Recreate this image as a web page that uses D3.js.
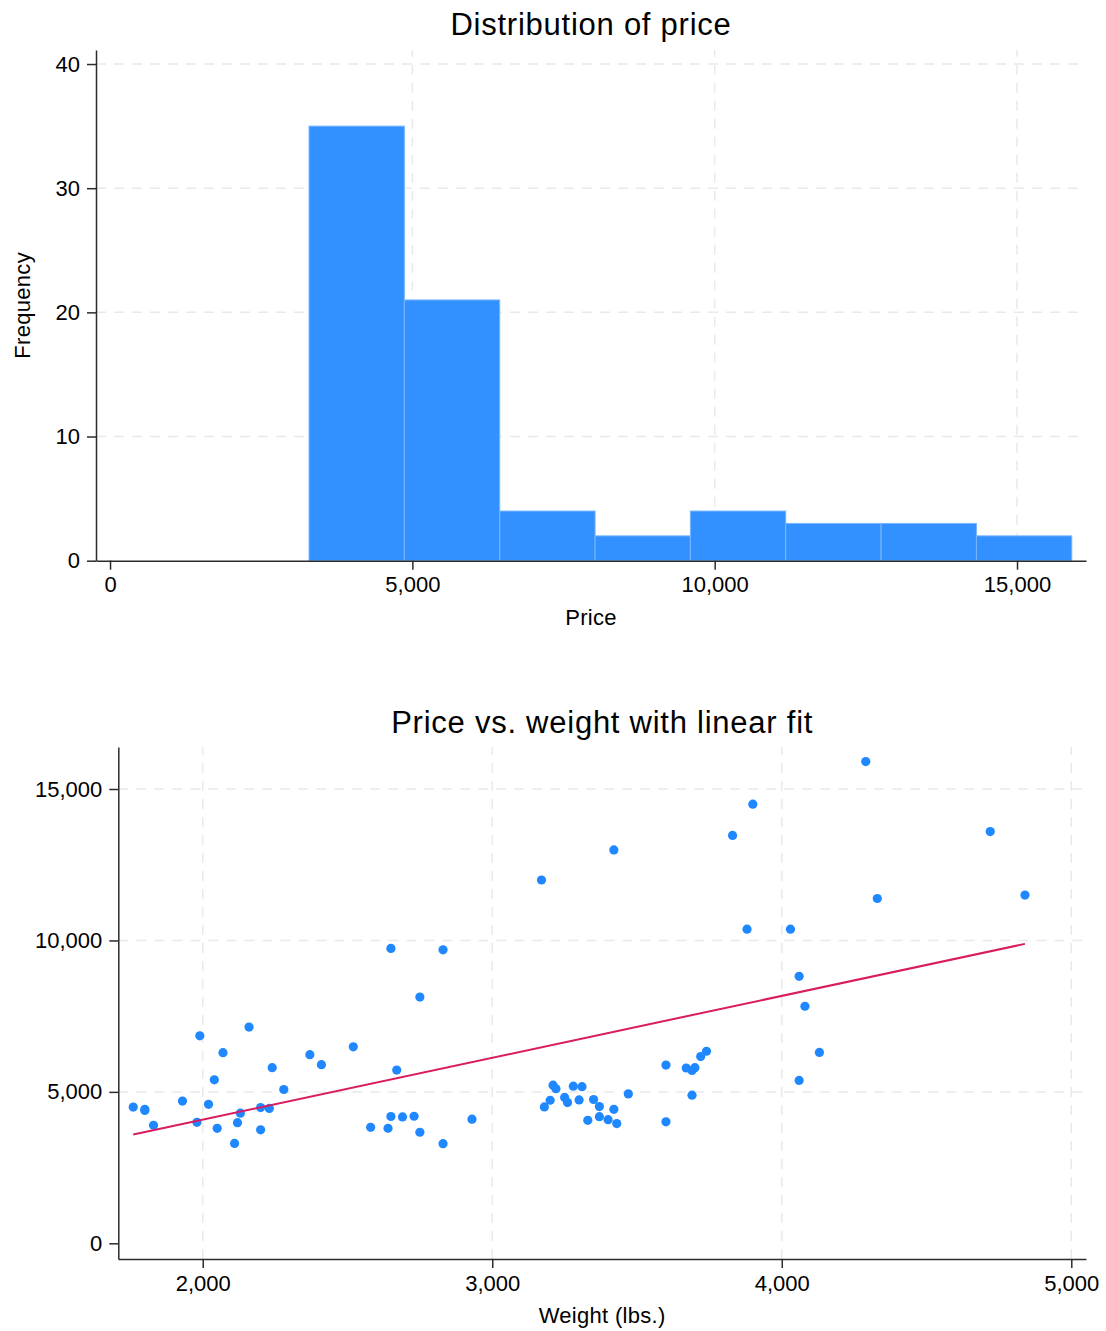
<!DOCTYPE html>
<html>
<head>
<meta charset="utf-8">
<title>Price histogram and price vs. weight</title>
<script src="https://d3js.org/d3.v7.min.js"></script>
<style>
  body { margin: 0; background: #fff; }
  svg text { font-family: "Liberation Sans", Arial, Helvetica, sans-serif; fill: #000; }
  .grid line { stroke: #e9e9e9; stroke-width: 1.5; stroke-dasharray: 10,8; }
  .axis path, .axis line { stroke: #2b2b2b; stroke-width: 1.5; }
  .title { font-size: 31px; letter-spacing: 0.75px; }
  .axtitle { font-size: 22px; letter-spacing: 0.3px; }
</style>
</head>
<body>
<div id="chart"></div>
<script>
// histogram of price: bin edges and frequencies
var priceBinEdges = [3291, 4868, 6445, 8022, 9598, 11175, 12752, 14329, 15906]
var priceBinCounts = [35, 21, 4, 2, 4, 3, 3, 2]

// scatter: weight (lbs.) and price of each car
var weight = [2930, 3350, 2640, 3250, 4080, 3670, 2230, 3280, 3880, 3400,
              4330, 3900, 4290, 2110, 3690, 3180, 3220, 2750, 3430, 2120,
              3600, 3600, 3740, 1800, 2650, 4840, 4720, 3830, 2580, 4060,
              3720, 3370, 4130, 2830, 4060, 3310, 3300, 3690, 3370, 2730,
              4030, 3260, 1800, 2200, 2520, 3330, 3700, 3470, 3210, 3200,
              3420, 2690, 2830, 2070, 2650, 2370, 2020, 2280, 2750, 2130,
              2240, 1760, 1980, 3420, 1830, 2050, 2410, 2200, 2670, 2160,
              2040, 1930, 1990, 3170]
var price = [4099, 4749, 3799, 4816, 7827, 5788, 4453, 5189, 10372, 4082,
             11385, 14500, 15906, 3299, 5705, 4504, 5104, 3667, 3955, 3984,
             4010, 5886, 6342, 4389, 4187, 11497, 13594, 13466, 3829, 5379,
             6165, 4516, 6303, 3291, 8814, 5172, 4733, 4890, 4181, 4195,
             10371, 4647, 4425, 4482, 6486, 4060, 5798, 4934, 5222, 4723,
             4424, 4172, 9690, 6295, 9735, 6229, 4589, 5079, 8129, 4296,
             5799, 4499, 3995, 12990, 3895, 3798, 5899, 3748, 5719, 7140,
             5397, 4697, 6850, 11995]

// tick labels
var histXTicks = [0, 5000, 10000, 15000]
var histYTicks = [0, 10, 20, 30, 40]
var scatXTicks = [2000, 3000, 4000, 5000]
var scatYTicks = [0, 5000, 10000, 15000]

var width = 1106
var height = 1331
var fmt = d3.format(",")

var svg = d3.select("#chart")
  .append("svg")
    .attr("width", width)
    .attr("height", height)

// ---------- top panel: histogram ----------
var hx = d3.scaleLinear().domain([-232, 16141]).range([96, 1086])
var hy = d3.scaleLinear().domain([0, 41.13]).range([560.7, 50])

var histPanel = svg.append("g")

// grid (none at 0, Stata drops it next to the axis)
var hgrid = histPanel.append("g").attr("class", "grid")
hgrid.selectAll(".gy").data(histYTicks.filter(function(d){ return d > 0 }))
  .enter().append("line")
    .attr("x1", hx.range()[0]).attr("x2", hx.range()[1])
    .attr("y1", function(d){ return hy(d) }).attr("y2", function(d){ return hy(d) })
hgrid.selectAll(".gx").data(histXTicks.filter(function(d){ return d > 0 }))
  .enter().append("line")
    .attr("y1", hy.range()[0]).attr("y2", hy.range()[1])
    .attr("x1", function(d){ return hx(d) }).attr("x2", function(d){ return hx(d) })

// bars
histPanel.append("g").selectAll("rect")
  .data(priceBinCounts)
  .enter().append("rect")
    .attr("x", function(d, i){ return hx(priceBinEdges[i]) })
    .attr("width", function(d, i){ return hx(priceBinEdges[i + 1]) - hx(priceBinEdges[i]) })
    .attr("y", function(d){ return hy(d) })
    .attr("height", function(d){ return hy(0) - hy(d) })
    .style("fill", "#3391ff")
    .style("stroke", "#78b6ff")
    .style("stroke-width", 1)

// axes
histPanel.append("g").attr("class", "axis")
  .attr("transform", "translate(0," + hy(0) + ")")
  .call(d3.axisBottom(hx).tickValues(histXTicks).tickFormat(fmt).tickSize(9).tickSizeOuter(0).tickPadding(7))
  .call(function(g){ g.selectAll("text").style("font-size", "22px") })
histPanel.append("g").attr("class", "axis")
  .attr("transform", "translate(" + hx.range()[0] + ",0)")
  .call(d3.axisLeft(hy).tickValues(histYTicks).tickFormat(fmt).tickSize(9).tickSizeOuter(0).tickPadding(7))
  .call(function(g){ g.selectAll("text").style("font-size", "22px") })

// titles
histPanel.append("text").attr("class", "title")
  .attr("x", (hx.range()[0] + hx.range()[1]) / 2).attr("y", 35)
  .attr("text-anchor", "middle")
  .text("Distribution of price")
histPanel.append("text").attr("class", "axtitle")
  .attr("x", (hx.range()[0] + hx.range()[1]) / 2).attr("y", 625)
  .attr("text-anchor", "middle")
  .text("Price")
histPanel.append("text").attr("class", "axtitle")
  .attr("transform", "translate(30," + (hy.range()[0] + hy.range()[1]) / 2 + ") rotate(-90)")
  .attr("text-anchor", "middle")
  .text("Frequency")

// ---------- bottom panel: scatter with linear fit ----------
var sx = d3.scaleLinear().domain([1708.4, 5050.8]).range([118.3, 1086])
var sy = d3.scaleLinear().domain([-518, 16387]).range([1259, 747])

var scatPanel = svg.append("g")

var sgrid = scatPanel.append("g").attr("class", "grid")
sgrid.selectAll(".gy").data(scatYTicks.filter(function(d){ return d > 0 }))
  .enter().append("line")
    .attr("x1", sx.range()[0]).attr("x2", sx.range()[1])
    .attr("y1", function(d){ return sy(d) }).attr("y2", function(d){ return sy(d) })
sgrid.selectAll(".gx").data(scatXTicks)
  .enter().append("line")
    .attr("y1", sy.range()[0]).attr("y2", sy.range()[1])
    .attr("x1", function(d){ return sx(d) }).attr("x2", function(d){ return sx(d) })

// points
var cars = weight.map(function(w, i){ return { weight: w, price: price[i] } })
scatPanel.append("g").selectAll("circle")
  .data(cars)
  .enter().append("circle")
    .attr("cx", function(d){ return sx(d.weight) })
    .attr("cy", function(d){ return sy(d.price) })
    .attr("r", 4.6)
    .style("fill", "#1f88ff")

// least squares fit of price on weight
var mw = d3.mean(weight), mp = d3.mean(price)
var slope = d3.sum(cars, function(d){ return (d.weight - mw) * (d.price - mp) }) /
            d3.sum(cars, function(d){ return (d.weight - mw) * (d.weight - mw) })
var icpt = mp - slope * mw
var fitX = d3.extent(weight)
scatPanel.append("path")
  .datum(fitX)
  .attr("d", d3.line()
    .x(function(d){ return sx(d) })
    .y(function(d){ return sy(icpt + slope * d) }))
  .style("fill", "none")
  .style("stroke", "#d91b5f")
  .style("stroke-width", 2)

scatPanel.append("g").attr("class", "axis")
  .attr("transform", "translate(0," + sy.range()[0] + ")")
  .call(d3.axisBottom(sx).tickValues(scatXTicks).tickFormat(fmt).tickSize(9).tickSizeOuter(0).tickPadding(7))
  .call(function(g){ g.selectAll("text").style("font-size", "22px") })
scatPanel.append("g").attr("class", "axis")
  .attr("transform", "translate(" + sx.range()[0] + ",0)")
  .call(d3.axisLeft(sy).tickValues(scatYTicks).tickFormat(fmt).tickSize(9).tickSizeOuter(0).tickPadding(7))
  .call(function(g){ g.selectAll("text").style("font-size", "22px") })

scatPanel.append("text").attr("class", "title")
  .attr("x", (sx.range()[0] + sx.range()[1]) / 2).attr("y", 733)
  .attr("text-anchor", "middle")
  .text("Price vs. weight with linear fit")
scatPanel.append("text").attr("class", "axtitle")
  .attr("x", (sx.range()[0] + sx.range()[1]) / 2).attr("y", 1323)
  .attr("text-anchor", "middle")
  .text("Weight (lbs.)")
</script>
</body>
</html>
